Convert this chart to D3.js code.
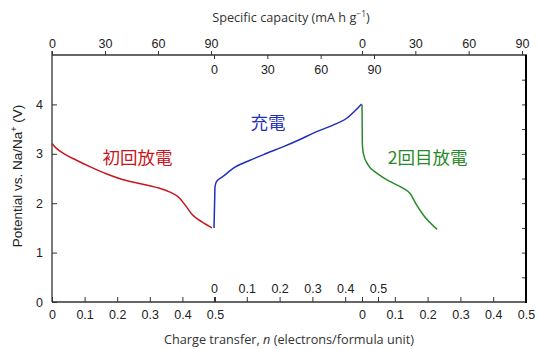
<!DOCTYPE html>
<html><head><meta charset="utf-8">
<script src="https://cdn.jsdelivr.net/npm/d3@7"></script>
<style>
body{margin:0;background:#fff;}
svg text{font-family:"Liberation Sans",Arial,sans-serif;}
</style></head>
<body><svg id="c" width="539" height="349"></svg>
<script>
// ---- data (n = electrons / formula unit, V = potential) ----
const firstDischargeN = [0, 0.012, 0.040, 0.075, 0.116, 0.168, 0.216, 0.268, 0.320, 0.360, 0.390, 0.412, 0.430, 0.460, 0.491];
const firstDischargeV = [3.21, 3.12, 2.99, 2.87, 2.74, 2.59, 2.48, 2.40, 2.32, 2.23, 2.11, 1.93, 1.77, 1.62, 1.50];
const chargeN = [0, 0.002, 0.003, 0.008, 0.027, 0.064, 0.110, 0.161, 0.210, 0.262, 0.313, 0.363, 0.405, 0.430, 0.450];
const chargeV = [1.50, 2.06, 2.33, 2.44, 2.54, 2.73, 2.87, 3.01, 3.14, 3.29, 3.45, 3.58, 3.72, 3.87, 4.01];
const secondDischargeN = [0, 0.001, 0.004, 0.019, 0.045, 0.085, 0.126, 0.146, 0.167, 0.187, 0.229];
const secondDischargeV = [4.0, 3.22, 3.01, 2.77, 2.61, 2.44, 2.30, 2.20, 1.96, 1.76, 1.47];
const nTicks = [0, 0.1, 0.2, 0.3, 0.4, 0.5];
const capTicks = [0, 30, 60, 90];
const vTicks = [0, 1, 2, 3, 4];
const vMinorTicks = [0.5, 1, 1.5, 2, 2.5, 3, 3.5, 4, 4.5];
const labels = ["初回放電", "充電", "2回目放電"];
const colors = ["#c8161e", "#1f2fb8", "#2a8a2a"];

const svg = d3.select("#c");
const L = 52, R = 526, T = 55, B = 302;

const y = d3.scaleLinear().domain([0, 5]).range([B, T]);
const xb1 = d3.scaleLinear().domain([0, 0.5]).range([52, 215]);
const xbc = d3.scaleLinear().domain([0, 0.5]).range([214, 378]);
const xb2 = d3.scaleLinear().domain([0, 0.5]).range([362, 526]);
const xt1 = d3.scaleLinear().domain([0, 90]).range([52, 211]);
const xtc = d3.scaleLinear().domain([0, 90]).range([214, 374]);
const xt2 = d3.scaleLinear().domain([0, 90]).range([362, 522]);

const axisColor = "#333";
function style(g, hideLabels) {
  g.select(".domain").remove();
  g.attr("font-family", null).attr("font-size", null);
  g.selectAll(".tick line").attr("stroke", axisColor).attr("stroke-width", 1);
  g.selectAll(".tick text").attr("fill", "#222").style("font-size", "12.5px")
   .style("font-family", '"Liberation Sans",Arial,sans-serif');
  if (hideLabels) g.selectAll(".tick text").remove();
}
const fmtN = d => d === 0 ? "0" : d3.format(".1f")(d);

// bottom outer axes (ticks inward/up, labels below)
svg.append("g").attr("transform", `translate(0,${B})`)
  .call(d3.axisBottom(xb1).tickValues(nTicks).tickFormat(fmtN).tickSizeInner(-5).tickSizeOuter(0).tickPadding(8))
  .call(g => style(g));
svg.append("g").attr("transform", `translate(0,${B})`)
  .call(d3.axisBottom(xb2).tickValues(nTicks).tickFormat(fmtN).tickSizeInner(-5).tickSizeOuter(0).tickPadding(8))
  .call(g => style(g));
// inner charge axis (ticks up, labels above)
svg.append("g").attr("transform", `translate(0,${B})`)
  .call(d3.axisTop(xbc).tickValues(nTicks).tickFormat(fmtN).tickSizeInner(5).tickSizeOuter(0).tickPadding(4))
  .call(g => style(g));
// top outer axes (ticks up, labels above)
svg.append("g").attr("transform", `translate(0,${T})`)
  .call(d3.axisTop(xt1).tickValues(capTicks).tickSizeInner(4).tickSizeOuter(0).tickPadding(3))
  .call(g => style(g));
svg.append("g").attr("transform", `translate(0,${T})`)
  .call(d3.axisTop(xt2).tickValues(capTicks).tickSizeInner(4).tickSizeOuter(0).tickPadding(3))
  .call(g => style(g));
// top inner charge axis (ticks down, labels below)
svg.append("g").attr("transform", `translate(0,${T})`)
  .call(d3.axisBottom(xtc).tickValues(capTicks).tickSizeInner(4).tickSizeOuter(0).tickPadding(6))
  .call(g => style(g));
// left axis
svg.append("g").attr("transform", `translate(${L},0)`)
  .call(d3.axisLeft(y).tickValues(vTicks).tickFormat(d3.format("d")).tickSizeInner(-5).tickSizeOuter(0).tickPadding(9))
  .call(g => style(g));
// right axis ticks
svg.append("g").attr("transform", `translate(${R},0)`)
  .call(d3.axisRight(y).tickValues(vMinorTicks).tickSizeInner(-4).tickSizeOuter(0))
  .call(g => style(g, true));

// frame
svg.append("line").attr("x1", L).attr("x2", L).attr("y1", T - 4).attr("y2", B).attr("stroke", axisColor).attr("stroke-width", 1.3);
svg.append("line").attr("x1", L).attr("x2", R + 1).attr("y1", T).attr("y2", T).attr("stroke", axisColor).attr("stroke-width", 1.3);
svg.append("line").attr("x1", L).attr("x2", R + 1).attr("y1", B).attr("y2", B).attr("stroke", axisColor).attr("stroke-width", 1.3);
svg.append("line").attr("x1", R).attr("x2", R).attr("y1", T).attr("y2", B + 1).attr("stroke", "#000").attr("stroke-width", 2);

// curves
const series = [
  {n: firstDischargeN, v: firstDischargeV, x: xb1},
  {n: chargeN, v: chargeV, x: xbc},
  {n: secondDischargeN, v: secondDischargeV, x: xb2}
];
series.forEach((s, i) => {
  const pts = s.n.map((d, j) => [s.x(d), y(s.v[j])]);
  svg.append("path").attr("d", d3.line().curve(d3.curveMonotoneX)(pts))
    .attr("fill", "none").attr("stroke", colors[i]).attr("stroke-width", 1.5);
});

// series labels
const labelPos = [[xb1(0.262), y(2.94)], [xbc(0.165), y(3.65)], [xb2(0.20), y(2.94)]];
labels.forEach((t, i) => {
  svg.append("text").attr("x", labelPos[i][0]).attr("y", labelPos[i][1])
    .attr("text-anchor", "middle").attr("dominant-baseline", "central")
    .attr("fill", colors[i]).style("font-family", '"Noto Sans CJK JP",sans-serif')
    .style("font-size", "17.5px").text(t);
});

// axis titles
const t1 = svg.append("text").attr("x", 291).attr("y", 22).attr("text-anchor", "middle")
  .attr("fill", "#333").style("font-family", '"Open Sans",sans-serif').style("font-size", "12.7px");
t1.append("tspan").text("Specific capacity (mA h g");
t1.append("tspan").attr("dy", -5).style("font-size", "8.5px").text("−1");
t1.append("tspan").attr("dy", 5).text(")");

const t2 = svg.append("text").attr("x", 289).attr("y", 344).attr("text-anchor", "middle")
  .attr("fill", "#333").style("font-family", '"Open Sans",sans-serif').style("font-size", "12.7px");
t2.append("tspan").text("Charge transfer, ");
t2.append("tspan").style("font-style", "italic").text("n");
t2.append("tspan").text(" (electrons/formula  unit)");

const t3 = svg.append("text").attr("transform", "translate(22,176) rotate(-90)").attr("text-anchor", "middle")
  .attr("fill", "#222").style("font-size", "13.5px");
t3.append("tspan").text("Potential vs. Na/Na");
t3.append("tspan").attr("dy", -5).style("font-size", "9px").text("+");
t3.append("tspan").attr("dy", 5).text(" (V)");
</script></body></html>
